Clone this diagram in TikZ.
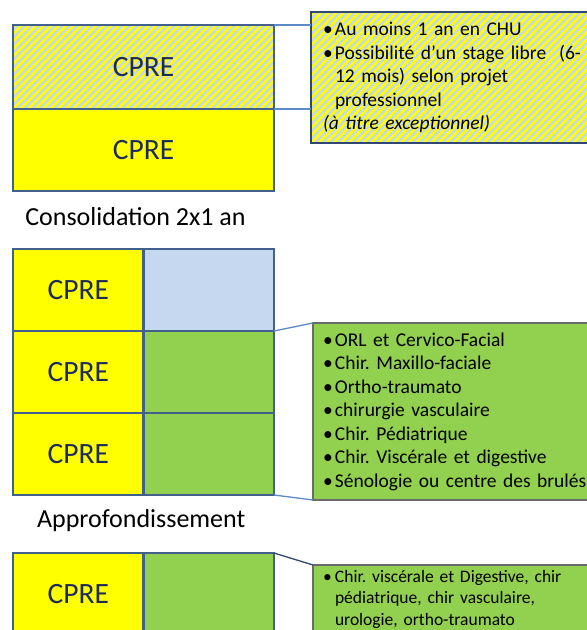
\documentclass[tikz,border=0pt]{standalone}
\usepackage{fontspec}
\setmainfont{Carlito}
\frenchspacing
\definecolor{jaune}{HTML}{FFFF00}
\definecolor{bleuclair}{HTML}{C6D8EF}
\definecolor{vert}{HTML}{92D050}
\definecolor{cadre}{HTML}{41608E}
\definecolor{marine}{HTML}{1F2A5C}
\definecolor{trait}{HTML}{5B8AC4}
\definecolor{gris}{HTML}{6B6B6B}
\definecolor{nuit}{HTML}{2F4775}
\newcommand{\puce}{\makebox[12pt][l]{\textbullet}}
\newcommand{\suite}{\hspace*{12pt}}
\tikzstyle{cell} = [rectangle, draw=cadre, line width=2.5pt, outer sep=0pt, inner sep=0pt,
    minimum width=130.5pt, minimum height=82pt, text=marine, font=\fontsize{29.5}{34}\selectfont]
\tikzstyle{cpre} = [cell, fill=jaune]
\tikzstyle{stage} = [cell, fill=vert]
\tikzstyle{libre} = [cell, fill=bleuclair]
\tikzstyle{hachure} = [fill=bleuclair, path picture={
    \foreach \k in {-25,...,50}
        \draw [jaune, line width=2.8pt] ([xshift=\k*7.5pt]path picture bounding box.south west) -- ++(400pt,400pt);
    }]
\tikzstyle{note} = [rectangle, anchor=north west, outer sep=0pt, inner xsep=10pt,
    text width=300pt, align=left, font=\fontsize{19.5}{23.5}\selectfont]
\tikzstyle{titre} = [font=\fontsize{26}{30}\selectfont, node distance=67pt]
\tikzstyle{line} = [draw, trait, line width=1.3pt]

\begin{document}
\begin{tikzpicture}[x=1pt, y=-1pt, node distance=82pt]
        \clip (0,0) rectangle (587,630);
        % Consolidation
        \node [cell, hachure, minimum width=261pt, minimum height=84pt] (consoA) at (143.5,67) {CPRE};
        \node [cpre, minimum width=261pt, below of=consoA, node distance=83pt] (consoB) {CPRE};
        \node [titre, below of=consoB, xshift=-8pt] (conso) {Consolidation 2x1 an};
        % Approfondissement
        \node [cpre] (a1) at (78.25,290) {CPRE};
        \node [libre, right of=a1, node distance=130.5pt] (b1) {};
        \node [cpre, below of=a1] (a2) {CPRE};
        \node [stage, below of=b1] (b2) {};
        \node [cpre, below of=a2] (a3) {CPRE};
        \node [stage, below of=b2] (b3) {};
        \node [titre, below of=a3, xshift=63pt] (approf) {Approfondissement};
        % Dernier bloc
        \node [cpre] (c1) at (78.25,594) {CPRE};
        \node [stage, right of=c1, node distance=130.5pt] (c2) {};
        % Info nodes
        \node [note, hachure, draw=nuit, line width=1.3pt, inner xsep=12pt, minimum height=131pt] (note1) at (311,12) {
            \puce Au moins 1 an en CHU\\
            \puce Possibilité d’un stage libre~~(6-\\
            \suite 12 mois) selon projet\\
            \suite professionnel\\
            \textit{(à titre exceptionnel)}
        };
        \node [note, fill=vert, draw=gris, line width=1.5pt, minimum height=177pt] (note2) at (313,323) {
            \puce ORL et Cervico-Facial\\
            \puce Chir. Maxillo-faciale\\
            \puce Ortho-traumato\\
            \puce chirurgie vasculaire\\
            \puce Chir. Pédiatrique\\
            \puce Chir. Viscérale et digestive\\
            \puce Sénologie ou centre des brulés
        };
        \node [note, fill=vert, draw=gris, line width=1.5pt, inner ysep=5pt,
            font=\fontsize{17.5}{21.5}\selectfont] (note3) at (313,565) {
            \puce Chir. viscérale et Digestive, chir\\
            \suite pédiatrique, chir vasculaire,\\
            \suite urologie, ortho-traumato
        };
        % Draw edges
        \path [line] (consoA.north east) -- (consoA.north east -| note1.west);
        \path [line] (consoA.south east) -- (consoA.south east -| note1.west);
        \path [line] (b1.south east) -- (note2.north west);
        \path [line] (b3.south east) -- (note2.south west);
        \path [line, draw=nuit] (c2.north east) -- (note3.north west);
    \end{tikzpicture}
\end{document}
